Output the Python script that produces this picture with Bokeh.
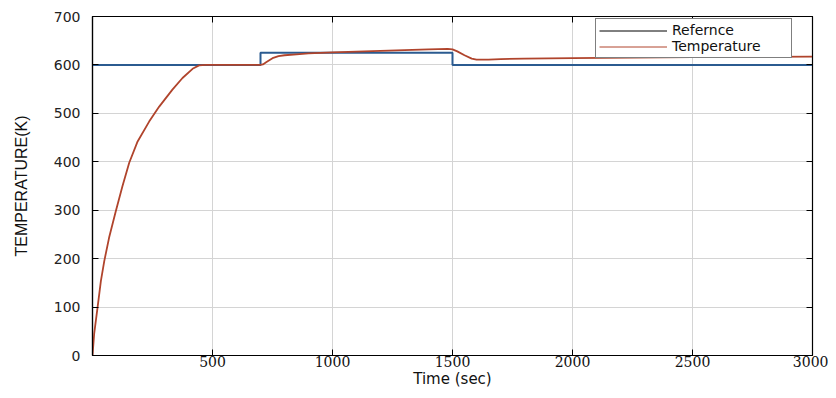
from bokeh.plotting import figure
from bokeh.models import (ColumnDataSource, FixedTicker, LinearAxis, Legend,
                          LegendItem, Range1d, CustomJSTickFormatter)
from bokeh.embed import file_html
from bokeh.resources import INLINE

# ---- data ----
ref_time = [0, 700, 700, 1500, 1500, 3000]
ref_temp = [600, 600, 625, 625, 600, 600]

temp_time = [0, 7, 21, 35, 49, 69, 97, 125, 153, 188, 236, 278, 333, 375,
             417, 444, 472, 500, 600, 700, 710, 725, 750, 775, 800, 850,
             900, 1000, 1100, 1200, 1300, 1400, 1480, 1500, 1520, 1550, 1580,
             1600, 1650, 1700, 1800, 2000, 2500, 3000]
temp_vals = [0, 45, 99, 154, 195, 243, 298, 350, 398, 442, 483, 514, 549,
             573, 592, 599, 600, 600, 600, 600, 601, 606, 614, 618, 620,
             622, 624, 626, 627.5, 629, 630.5, 632, 633, 632, 628, 620, 613,
             611, 611, 612, 613, 614, 616, 617]

x_ticks = [500, 1000, 1500, 2000, 2500, 3000]
y_ticks = [0, 100, 200, 300, 400, 500, 600, 700]

REF_COLOR = "#2b5b90"
TEMP_COLOR = "#b0442c"
NAN = float("nan")

p = figure(width=828, height=390, x_range=Range1d(0, 3000),
           y_range=Range1d(0, 700), output_backend="svg",
           toolbar_location=None, min_border_left=92, min_border_right=16,
           min_border_top=16, min_border_bottom=35)

p.outline_line_color = "black"
p.outline_line_width = 1.2

src_ref = ColumnDataSource(dict(t=ref_time, v=ref_temp))
src_tmp = ColumnDataSource(dict(t=temp_time, v=temp_vals))
p.line("t", "v", source=src_ref, color=REF_COLOR, line_width=2)
p.line("t", "v", source=src_tmp, color=TEMP_COLOR, line_width=1.8)

# legend-only renderers (legend lines are black / red in the original)
leg_ref = p.line(x=[NAN], y=[NAN], color="black", line_width=1)
leg_tmp = p.line(x=[NAN], y=[NAN], color=TEMP_COLOR, line_width=1)

# axes
for ax in (p.xaxis[0], p.yaxis[0]):
    ax.axis_line_color = "black"
    ax.axis_line_width = 1.2
    ax.major_tick_in = 6
    ax.major_tick_out = 0
    ax.minor_tick_line_color = None
    ax.major_tick_line_color = "black"

p.xaxis.ticker = FixedTicker(ticks=x_ticks)
p.yaxis.ticker = FixedTicker(ticks=y_ticks)
p.xgrid.ticker = FixedTicker(ticks=x_ticks)
p.ygrid.ticker = FixedTicker(ticks=y_ticks)
p.grid.grid_line_color = "#d4d4d4"
p.grid.grid_line_width = 1

p.xaxis.major_label_text_font = "DejaVu Serif"
p.xaxis.major_label_text_font_size = "14px"
p.xaxis.major_label_text_color = "#111111"
p.xaxis.major_label_standoff = 0
p.xaxis.axis_label = "Time (sec)"
p.xaxis.axis_label_text_font = "DejaVu Sans"
p.xaxis.axis_label_text_font_size = "15px"
p.xaxis.axis_label_text_font_style = "normal"
p.xaxis.axis_label_text_color = "#111111"
p.xaxis.axis_label_standoff = 0

p.yaxis.major_label_text_font = "DejaVu Sans"
p.yaxis.major_label_text_font_size = "14px"
p.yaxis.major_label_text_color = "#222222"
p.yaxis.major_label_standoff = 12
p.yaxis.axis_label = "TEMPERATURE(K)"
p.yaxis.axis_label_text_font = "Liberation Sans"
p.yaxis.axis_label_text_font_size = "16px"
p.yaxis.axis_label_text_font_style = "normal"
p.yaxis.axis_label_text_color = "#111111"
p.yaxis.axis_label_standoff = 21

# mirrored tick marks on top and right
blank = CustomJSTickFormatter(code="return ''")
top = LinearAxis(ticker=FixedTicker(ticks=x_ticks), formatter=blank,
                 major_tick_in=6, major_tick_out=0, minor_tick_line_color=None,
                 major_label_standoff=0, axis_line_color="black")
right = LinearAxis(ticker=FixedTicker(ticks=y_ticks), formatter=blank,
                   major_tick_in=6, major_tick_out=0, minor_tick_line_color=None,
                   major_label_standoff=0, axis_line_color="black")
p.add_layout(top, "above")
p.add_layout(right, "right")

legend = Legend(items=[LegendItem(label="Refernce", renderers=[leg_ref]),
                       LegendItem(label="Temperature", renderers=[leg_tmp])],
                location=(503, 297))
legend.border_line_color = "black"
legend.border_line_width = 1.5
legend.background_fill_color = "white"
legend.background_fill_alpha = 1
legend.label_text_font = "DejaVu Sans"
legend.label_text_font_size = "14px"
legend.label_text_color = "#111111"
legend.glyph_width = 68
legend.glyph_height = 15
legend.label_height = 15
legend.label_width = 116
legend.label_standoff = 5
legend.padding = 3
legend.spacing = 0
legend.margin = 0
p.add_layout(legend, "center")

open("out.html", "w").write(file_html(p, INLINE))
